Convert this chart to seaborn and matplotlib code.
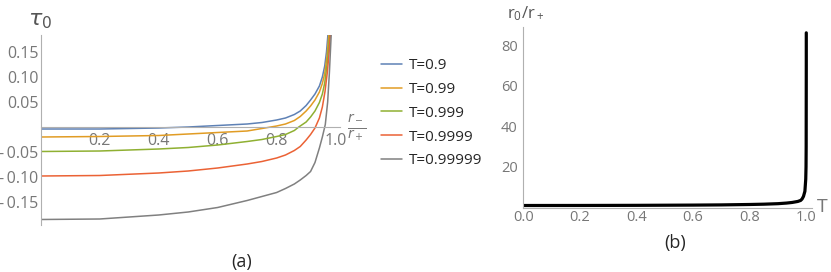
import numpy as np
import pandas as pd
import matplotlib
matplotlib.use("Agg")
import matplotlib.pyplot as plt
from matplotlib.ticker import MultipleLocator
import seaborn as sns

# values
t_labels = ["T=0.9", "T=0.99", "T=0.999", "T=0.9999", "T=0.99999"]
colors = ["#5E81B5", "#E19C24", "#8FB032", "#EB6235", "#808080"]

x_09 = [0, 0.2, 0.4, 0.5, 0.6, 0.7, 0.75, 0.8, 0.83, 0.86, 0.88, 0.9, 0.915, 0.93, 0.945,
        0.955, 0.963, 0.969, 0.974]
tau_09 = [-0.004, -0.004, -0.002, 0.000, 0.003, 0.006, 0.009, 0.014, 0.018, 0.025, 0.032,
          0.043, 0.054, 0.066, 0.082, 0.100, 0.122, 0.150, 0.185]

x_099 = [0, 0.2, 0.4, 0.5, 0.6, 0.7, 0.75, 0.78, 0.8, 0.83, 0.86, 0.88, 0.9, 0.915, 0.93,
         0.945, 0.955, 0.963, 0.971, 0.977]
tau_099 = [-0.020, -0.019, -0.017, -0.014, -0.011, -0.008, -0.003, 0.000, 0.002, 0.006,
           0.013, 0.021, 0.032, 0.042, 0.054, 0.070, 0.087, 0.107, 0.142, 0.185]

x_0999 = [0, 0.2, 0.4, 0.5, 0.6, 0.7, 0.75, 0.8, 0.83, 0.86, 0.875, 0.9, 0.915, 0.93, 0.945,
          0.955, 0.963, 0.972, 0.980]
tau_0999 = [-0.049, -0.048, -0.044, -0.041, -0.036, -0.029, -0.025, -0.019, -0.015, -0.007,
            0.000, 0.010, 0.020, 0.032, 0.049, 0.066, 0.088, 0.130, 0.185]

x_09999 = [0, 0.2, 0.4, 0.5, 0.6, 0.7, 0.75, 0.8, 0.83, 0.86, 0.88, 0.9, 0.915, 0.93, 0.945,
           0.955, 0.964, 0.972, 0.978, 0.982]
tau_09999 = [-0.098, -0.097, -0.092, -0.088, -0.082, -0.074, -0.069, -0.062, -0.056, -0.047,
             -0.039, -0.026, -0.015, -0.002, 0.018, 0.040, 0.071, 0.110, 0.150, 0.185]

x_099999 = [0, 0.2, 0.4, 0.5, 0.6, 0.7, 0.75, 0.8, 0.83, 0.86, 0.88, 0.9, 0.915, 0.93, 0.945,
            0.955, 0.965, 0.973, 0.979, 0.985]
tau_099999 = [-0.185, -0.184, -0.176, -0.170, -0.161, -0.147, -0.139, -0.131, -0.123, -0.114,
              -0.106, -0.097, -0.089, -0.071, -0.042, -0.020, 0.005, 0.050, 0.110, 0.185]

T_vals = [0, 0.2, 0.4, 0.6, 0.7, 0.8, 0.85, 0.9, 0.93, 0.95, 0.97, 0.98, 0.985, 0.99,
          0.995, 0.998, 0.999, 0.9995, 0.9999, 0.99993]
r0_vals = [1.0, 1.02, 1.08, 1.2, 1.3, 1.5, 1.65, 1.9, 2.2, 2.5, 3.0, 3.5, 4.2, 5.5,
           8.0, 14, 20, 30, 70, 86]

left_xticks = [0.2, 0.4, 0.6, 0.8, 1.0]
left_yticks = [-0.15, -0.10, -0.05, 0.05, 0.10, 0.15]
left_ylabels = ["-\u20090.15", "-\u20090.10", "-\u20090.05", "0.05", "0.10", "0.15"]
right_xticks = [0.0, 0.2, 0.4, 0.6, 0.8, 1.0]
right_yticks = [20, 40, 60, 80]

curves = [(x_09, tau_09), (x_099, tau_099), (x_0999, tau_0999),
          (x_09999, tau_09999), (x_099999, tau_099999)]
frames = []
for lab, (xs, ys) in zip(t_labels, curves):
    frames.append(pd.DataFrame({"r": xs, "tau": ys, "T": lab}))
df = pd.concat(frames, ignore_index=True)
df_b = pd.DataFrame({"T": T_vals, "r0": r0_vals})

sns.set_style("white")
plt.rcParams["font.family"] = ["Open Sans", "DejaVu Sans"]

axis_col = "#b0b0b0"
tick_col = "#777777"

fig = plt.figure(figsize=(8.31, 2.72), dpi=100)
ax1 = fig.add_axes([0.049, 0.1728, 0.3602, 0.6985])
ax2 = fig.add_axes([0.6297, 0.237, 0.3474, 0.6647])

sns.lineplot(data=df, x="r", y="tau", hue="T", palette=colors, sort=False,
             estimator=None, lw=1.1, ax=ax1, legend=False)
ax1.set_xlim(0, 1.015)
ax1.set_ylim(-0.196, 0.184)

sns.lineplot(data=df_b, x="T", y="r0", color="black", lw=2.3, sort=False,
             estimator=None, ax=ax2)
ax2.set_xlim(0, 1.02)
ax2.set_ylim(0, 89)

for ax in (ax1, ax2):
    ax.set_xlabel("")
    ax.set_ylabel("")
    ax.patch.set_alpha(0)
    for s in ("top", "right"):
        ax.spines[s].set_visible(False)
    for s in ("left", "bottom"):
        ax.spines[s].set_color(axis_col)
        ax.spines[s].set_linewidth(0.8)
    ax.spines["left"].set_position(("data", 0))
    ax.spines["bottom"].set_position(("data", 0))
    ax.tick_params(which="both", direction="in", color=axis_col, labelcolor=tick_col)
    ax.tick_params(which="major", length=5, width=0.7)
    ax.tick_params(which="minor", length=2.8, width=0.6)

ax1.set_xticks(left_xticks)
ax1.set_xticklabels([f"{v:.1f}" for v in left_xticks])
ax1.set_yticks(left_yticks)
ax1.set_yticklabels(left_ylabels)
ax1.xaxis.set_minor_locator(MultipleLocator(0.05))
ax1.yaxis.set_minor_locator(MultipleLocator(0.01))
ax1.tick_params(axis="x", labelsize=11.5, pad=4)
ax1.tick_params(axis="y", labelsize=11.5, pad=1.5)

ax2.set_xticks(right_xticks)
ax2.set_xticklabels([f"{v:.1f}" for v in right_xticks])
ax2.set_yticks(right_yticks)
ax2.xaxis.set_minor_locator(MultipleLocator(0.05))
ax2.yaxis.set_minor_locator(MultipleLocator(5))
ax2.tick_params(axis="x", labelsize=10.5, pad=2)
ax2.tick_params(axis="y", labelsize=10.5, pad=4)

# axis titles
fig.text(40 / 831, 1 - 20 / 272, r"$\tau_0$", fontsize=16, color="#555555",
         ha="center", va="center")
fig.text(357 / 831, 1 - 128 / 272, r"$\frac{r_-}{r_+}$", fontsize=14, color=tick_col,
         ha="center", va="center")
fig.text(507 / 831, 1 - 14 / 272, r"$\mathregular{r_0/r_+}$", fontsize=12, color="#555555",
         ha="left", va="center")
fig.text(822 / 831, 1 - 207 / 272, "T", fontsize=14, color=tick_col,
         ha="center", va="center")

# legend
handles = [plt.Line2D([], [], color=c, lw=1.1) for c in colors]
fig.legend(handles, t_labels, loc="upper left", bbox_to_anchor=(381 / 831, 1 - 58 / 272),
           frameon=False, fontsize=11, handlelength=1.35, handletextpad=0.5,
           labelspacing=0.58, borderaxespad=0, borderpad=0)

fig.text(242 / 831, 1 - 262 / 272, "(a)", fontsize=13, ha="center", va="center")
fig.text(675 / 831, 1 - 243 / 272, "(b)", fontsize=13, ha="center", va="center")

fig.savefig("out.png", dpi=100)
